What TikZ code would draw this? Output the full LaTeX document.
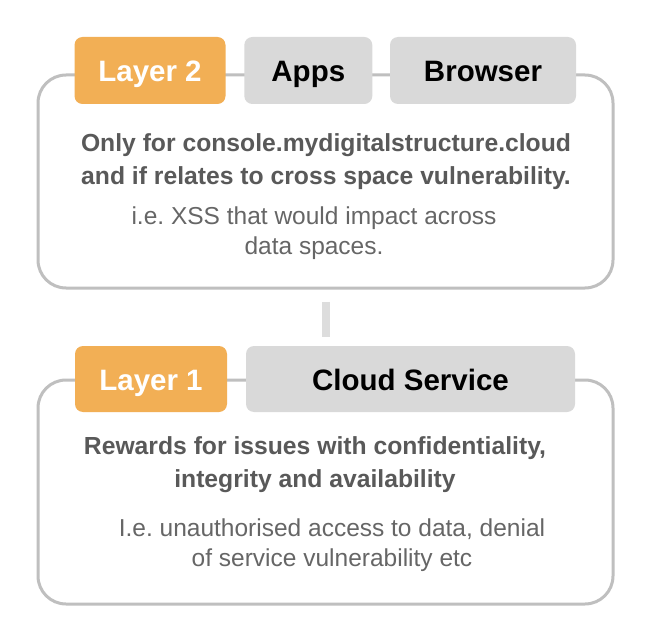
\documentclass[tikz,border=0pt]{standalone}
\usepackage{fontspec}
\setmainfont{Liberation Sans}
\frenchspacing
\definecolor{orangebox}{HTML}{F2AF55}
\definecolor{graybox}{HTML}{D9D9D9}
\definecolor{frame}{HTML}{BFBFBF}
\definecolor{linkbar}{HTML}{DDDDDD}
\definecolor{boldtxt}{HTML}{595959}
\definecolor{regtxt}{HTML}{666666}
\begin{document}
\begin{tikzpicture}[x=1pt,y=-1pt,
  container/.style={draw=frame, line width=3pt, rounded corners=28pt, fill=white, inner sep=0pt},
  tab/.style={rounded corners=8pt, inner sep=0pt, font=\fontsize{29.5}{33}\selectfont\bfseries, text height=22.5pt, text depth=0pt},
  layertab/.style={tab, fill=orangebox, text=white},
  greytab/.style={tab, fill=graybox, text=black},
  headtxt/.style={align=center, text=boldtxt, font=\fontsize{24.7}{33}\selectfont\bfseries, inner sep=0pt},
  bodytxt/.style={align=center, text=regtxt, font=\fontsize{24.5}{30}\selectfont, inner sep=0pt},
  linkline/.style={draw=linkbar, line width=8pt}
]
\useasboundingbox (0,0) rectangle (662,642);
% containers
\node[container, minimum width=575pt, minimum height=213pt] (cont2) at (325.5,181.5) {};
\node[container, minimum width=575pt, minimum height=224pt] (cont1) at (325.5,492) {};
% top tabs
\node[layertab, minimum width=151pt, minimum height=67pt] (l2) at (150,70.5) {Layer 2};
\node[greytab, minimum width=128pt, minimum height=67pt] (apps) at (308.3,70.5) {Apps};
\node[greytab, minimum width=186pt, minimum height=67pt] (browser) at (483,70.5) {Browser};
% bottom tabs
\node[layertab, minimum width=152pt, minimum height=66pt] (l1) at (151,379) {Layer 1};
\node[greytab, minimum width=329pt, minimum height=66pt] (cloud) at (410.5,379) {Cloud Service};
% texts
\node[headtxt] (t2a) at (326,161.5) {Only for console.mydigitalstructure.cloud\\and if relates to cross space vulnerability.};
\node[bodytxt] (t2b) at (314,233.5) {i.e. XSS that would impact across\\data spaces.};
\node[headtxt] (t1a) at (315,465) {Rewards for issues with confidentiality,\\integrity and availability};
\node[bodytxt] (t1b) at (332,545) {I.e. unauthorised access to data, denial\\of service vulnerability etc};
% link between layers
\draw[linkline, shorten <=12pt, shorten >=42pt] (cont2.south) -- (cont1.north);
\end{tikzpicture}
\end{document}
